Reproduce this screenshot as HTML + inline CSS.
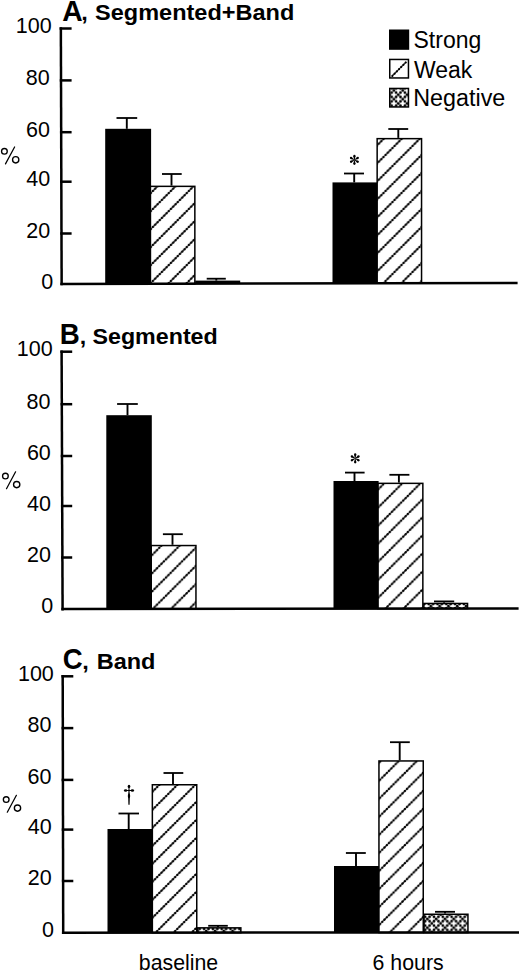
<!DOCTYPE html><html><head><meta charset="utf-8"><style>html,body{margin:0;padding:0;background:#fff;overflow:hidden;}svg{display:block;}text{font-family:"Liberation Sans",sans-serif;fill:#000;}</style></head><body>
<svg width="520" height="971" viewBox="0 0 520 971">
<defs>
<pattern id="hatch" patternUnits="userSpaceOnUse" width="18.3" height="18.3"><path d="M-9.15,9.15 L9.15,-9.15 M0,18.3 L18.3,0 M9.15,27.450000000000003 L27.450000000000003,9.15" stroke="#000" stroke-width="1.6"/></pattern>
<pattern id="dots" patternUnits="userSpaceOnUse" width="4.6" height="4.6"><rect width="4.6" height="4.6" fill="#fff"/><circle cx="0" cy="0" r="1.25"/><circle cx="4.6" cy="0" r="1.25"/><circle cx="0" cy="4.6" r="1.25"/><circle cx="4.6" cy="4.6" r="1.25"/><circle cx="2.3" cy="2.3" r="1.25"/></pattern>
</defs>
<rect width="520" height="971" fill="#fff"/>
<line x1="126.80" y1="118.00" x2="126.80" y2="128.80" stroke="#000" stroke-width="1.9" stroke-linecap="butt"/>
<line x1="116.50" y1="118.00" x2="137.20" y2="118.00" stroke="#000" stroke-width="1.8" stroke-linecap="butt"/>
<rect x="105.20" y="128.80" width="45.90" height="155.20" fill="#000"/>
<line x1="171.50" y1="174.00" x2="171.50" y2="185.60" stroke="#000" stroke-width="1.9" stroke-linecap="butt"/>
<line x1="162.00" y1="174.00" x2="181.70" y2="174.00" stroke="#000" stroke-width="1.8" stroke-linecap="butt"/>
<defs><pattern id="h1" patternUnits="userSpaceOnUse" x="361.80" y="0" width="18.0" height="18.0"><path d="M-9.0,9.0 L9.0,-9.0 M0,18.0 L18.0,0 M9.0,27.0 L27.0,9.0" stroke="#222" stroke-width="1.1"/><path d="M-9.0,9.0 L9.0,-9.0 M0,18.0 L18.0,0 M9.0,27.0 L27.0,9.0" stroke="#000" stroke-width="2.25" stroke-linecap="round" stroke-dasharray="0.25 2.9320" stroke-dashoffset="-0.5"/></pattern></defs>
<rect x="150.35" y="186.35" width="44.50" height="97.65" fill="url(#h1)" stroke="#000" stroke-width="1.5"/>
<line x1="216.30" y1="278.70" x2="216.30" y2="280.60" stroke="#000" stroke-width="1.9" stroke-linecap="butt"/>
<line x1="206.70" y1="278.70" x2="225.80" y2="278.70" stroke="#000" stroke-width="1.8" stroke-linecap="butt"/>
<rect x="195.20" y="280.60" width="45.00" height="3.40" fill="#000"/>
<line x1="354.20" y1="173.50" x2="354.20" y2="182.40" stroke="#000" stroke-width="1.9" stroke-linecap="butt"/>
<line x1="344.00" y1="173.50" x2="364.00" y2="173.50" stroke="#000" stroke-width="1.8" stroke-linecap="butt"/>
<rect x="332.50" y="182.40" width="44.70" height="100.80" fill="#000"/>
<line x1="398.30" y1="129.00" x2="398.30" y2="137.90" stroke="#000" stroke-width="1.9" stroke-linecap="butt"/>
<line x1="388.30" y1="129.00" x2="408.20" y2="129.00" stroke="#000" stroke-width="1.8" stroke-linecap="butt"/>
<defs><pattern id="h2" patternUnits="userSpaceOnUse" x="540.50" y="0" width="18.0" height="18.0"><path d="M-9.0,9.0 L9.0,-9.0 M0,18.0 L18.0,0 M9.0,27.0 L27.0,9.0" stroke="#222" stroke-width="1.1"/><path d="M-9.0,9.0 L9.0,-9.0 M0,18.0 L18.0,0 M9.0,27.0 L27.0,9.0" stroke="#000" stroke-width="2.25" stroke-linecap="round" stroke-dasharray="0.25 2.9320" stroke-dashoffset="-0.5"/></pattern></defs>
<rect x="377.15" y="138.65" width="44.40" height="144.55" fill="url(#h2)" stroke="#000" stroke-width="1.5"/>
<line x1="127.50" y1="404.00" x2="127.50" y2="415.20" stroke="#000" stroke-width="1.9" stroke-linecap="butt"/>
<line x1="117.10" y1="404.00" x2="137.80" y2="404.00" stroke="#000" stroke-width="1.8" stroke-linecap="butt"/>
<rect x="106.30" y="415.20" width="45.50" height="193.80" fill="#000"/>
<line x1="172.50" y1="534.20" x2="172.50" y2="544.80" stroke="#000" stroke-width="1.9" stroke-linecap="butt"/>
<line x1="162.90" y1="534.20" x2="182.80" y2="534.20" stroke="#000" stroke-width="1.8" stroke-linecap="butt"/>
<defs><pattern id="h3" patternUnits="userSpaceOnUse" x="725.30" y="0" width="18.2" height="18.2"><path d="M-9.1,9.1 L9.1,-9.1 M0,18.2 L18.2,0 M9.1,27.299999999999997 L27.299999999999997,9.1" stroke="#222" stroke-width="1.1"/><path d="M-9.1,9.1 L9.1,-9.1 M0,18.2 L18.2,0 M9.1,27.299999999999997 L27.299999999999997,9.1" stroke="#000" stroke-width="2.25" stroke-linecap="round" stroke-dasharray="0.25 2.9673" stroke-dashoffset="-0.5"/></pattern></defs>
<rect x="151.25" y="545.55" width="44.70" height="63.45" fill="url(#h3)" stroke="#000" stroke-width="1.5"/>
<line x1="354.50" y1="472.60" x2="354.50" y2="481.00" stroke="#000" stroke-width="1.9" stroke-linecap="butt"/>
<line x1="345.00" y1="472.60" x2="364.60" y2="472.60" stroke="#000" stroke-width="1.8" stroke-linecap="butt"/>
<rect x="333.50" y="481.00" width="45.10" height="127.60" fill="#000"/>
<line x1="398.90" y1="474.80" x2="398.90" y2="482.60" stroke="#000" stroke-width="1.9" stroke-linecap="butt"/>
<line x1="389.40" y1="474.80" x2="409.40" y2="474.80" stroke="#000" stroke-width="1.8" stroke-linecap="butt"/>
<defs><pattern id="h4" patternUnits="userSpaceOnUse" x="885.70" y="0" width="18.05" height="18.05"><path d="M-9.025,9.025 L9.025,-9.025 M0,18.05 L18.05,0 M9.025,27.075000000000003 L27.075000000000003,9.025" stroke="#222" stroke-width="1.1"/><path d="M-9.025,9.025 L9.025,-9.025 M0,18.05 L18.05,0 M9.025,27.075000000000003 L27.075000000000003,9.025" stroke="#000" stroke-width="2.25" stroke-linecap="round" stroke-dasharray="0.25 2.9408" stroke-dashoffset="-0.5"/></pattern></defs>
<rect x="377.85" y="483.35" width="45.00" height="125.25" fill="url(#h4)" stroke="#000" stroke-width="1.5"/>
<line x1="444.10" y1="601.40" x2="444.10" y2="602.70" stroke="#000" stroke-width="1.9" stroke-linecap="butt"/>
<line x1="434.00" y1="601.40" x2="454.20" y2="601.40" stroke="#000" stroke-width="1.8" stroke-linecap="butt"/>
<defs><pattern id="n2" patternUnits="userSpaceOnUse" x="419.9" y="604.0" width="8.8" height="8.8"><rect width="8.8" height="8.8" fill="#fff"/><circle cx="0.00" cy="0.00" r="1.38"/><circle cx="4.40" cy="0.00" r="1.38"/><circle cx="8.80" cy="0.00" r="1.38"/><circle cx="0.00" cy="4.40" r="1.38"/><circle cx="4.40" cy="4.40" r="1.38"/><circle cx="8.80" cy="4.40" r="1.38"/><circle cx="0.00" cy="8.80" r="1.38"/><circle cx="4.40" cy="8.80" r="1.38"/><circle cx="8.80" cy="8.80" r="1.38"/><circle cx="2.20" cy="2.20" r="1.38"/><circle cx="6.60" cy="6.60" r="1.38"/></pattern></defs>
<rect x="423.85" y="603.45" width="43.70" height="5.15" fill="url(#n2)" stroke="#000" stroke-width="1.5"/>
<line x1="128.70" y1="813.50" x2="128.70" y2="829.00" stroke="#000" stroke-width="1.9" stroke-linecap="butt"/>
<line x1="118.50" y1="813.50" x2="139.00" y2="813.50" stroke="#000" stroke-width="1.8" stroke-linecap="butt"/>
<rect x="107.50" y="829.00" width="45.00" height="103.70" fill="#000"/>
<line x1="173.00" y1="773.00" x2="173.00" y2="784.00" stroke="#000" stroke-width="1.9" stroke-linecap="butt"/>
<line x1="163.50" y1="773.00" x2="183.30" y2="773.00" stroke="#000" stroke-width="1.8" stroke-linecap="butt"/>
<defs><pattern id="h5" patternUnits="userSpaceOnUse" x="962.20" y="0" width="18.0" height="18.0"><path d="M-9.0,9.0 L9.0,-9.0 M0,18.0 L18.0,0 M9.0,27.0 L27.0,9.0" stroke="#222" stroke-width="1.1"/><path d="M-9.0,9.0 L9.0,-9.0 M0,18.0 L18.0,0 M9.0,27.0 L27.0,9.0" stroke="#000" stroke-width="2.25" stroke-linecap="round" stroke-dasharray="0.25 2.9320" stroke-dashoffset="-0.5"/></pattern></defs>
<rect x="152.35" y="784.75" width="44.40" height="147.95" fill="url(#h5)" stroke="#000" stroke-width="1.5"/>
<line x1="218.00" y1="925.80" x2="218.00" y2="927.10" stroke="#000" stroke-width="1.9" stroke-linecap="butt"/>
<line x1="208.20" y1="925.80" x2="227.80" y2="925.80" stroke="#000" stroke-width="1.8" stroke-linecap="butt"/>
<defs><pattern id="n3" patternUnits="userSpaceOnUse" x="195.3" y="928.9" width="8.8" height="8.8"><rect width="8.8" height="8.8" fill="#fff"/><circle cx="0.00" cy="0.00" r="1.38"/><circle cx="4.40" cy="0.00" r="1.38"/><circle cx="8.80" cy="0.00" r="1.38"/><circle cx="0.00" cy="4.40" r="1.38"/><circle cx="4.40" cy="4.40" r="1.38"/><circle cx="8.80" cy="4.40" r="1.38"/><circle cx="0.00" cy="8.80" r="1.38"/><circle cx="4.40" cy="8.80" r="1.38"/><circle cx="8.80" cy="8.80" r="1.38"/><circle cx="2.20" cy="2.20" r="1.38"/><circle cx="6.60" cy="6.60" r="1.38"/></pattern></defs>
<rect x="197.75" y="927.85" width="43.10" height="4.85" fill="url(#n3)" stroke="#000" stroke-width="1.5"/>
<line x1="356.00" y1="853.00" x2="356.00" y2="866.00" stroke="#000" stroke-width="1.9" stroke-linecap="butt"/>
<line x1="345.90" y1="853.00" x2="365.80" y2="853.00" stroke="#000" stroke-width="1.8" stroke-linecap="butt"/>
<rect x="334.00" y="866.00" width="45.00" height="66.60" fill="#000"/>
<line x1="399.70" y1="742.20" x2="399.70" y2="760.20" stroke="#000" stroke-width="1.9" stroke-linecap="butt"/>
<line x1="390.00" y1="742.20" x2="409.80" y2="742.20" stroke="#000" stroke-width="1.8" stroke-linecap="butt"/>
<defs><pattern id="h6" patternUnits="userSpaceOnUse" x="1159.80" y="0" width="18.04" height="18.04"><path d="M-9.02,9.02 L9.02,-9.02 M0,18.04 L18.04,0 M9.02,27.06 L27.06,9.02" stroke="#222" stroke-width="1.1"/><path d="M-9.02,9.02 L9.02,-9.02 M0,18.04 L18.04,0 M9.02,27.06 L27.06,9.02" stroke="#000" stroke-width="2.25" stroke-linecap="round" stroke-dasharray="0.25 2.9391" stroke-dashoffset="-0.5"/></pattern></defs>
<rect x="378.95" y="760.95" width="44.30" height="171.65" fill="url(#h6)" stroke="#000" stroke-width="1.5"/>
<line x1="445.00" y1="911.80" x2="445.00" y2="913.50" stroke="#000" stroke-width="1.9" stroke-linecap="butt"/>
<line x1="435.00" y1="911.80" x2="455.00" y2="911.80" stroke="#000" stroke-width="1.8" stroke-linecap="butt"/>
<defs><pattern id="n4" patternUnits="userSpaceOnUse" x="425.2" y="916.8" width="8.8" height="8.8"><rect width="8.8" height="8.8" fill="#fff"/><circle cx="0.00" cy="0.00" r="1.38"/><circle cx="4.40" cy="0.00" r="1.38"/><circle cx="8.80" cy="0.00" r="1.38"/><circle cx="0.00" cy="4.40" r="1.38"/><circle cx="4.40" cy="4.40" r="1.38"/><circle cx="8.80" cy="4.40" r="1.38"/><circle cx="0.00" cy="8.80" r="1.38"/><circle cx="4.40" cy="8.80" r="1.38"/><circle cx="8.80" cy="8.80" r="1.38"/><circle cx="2.20" cy="2.20" r="1.38"/><circle cx="6.60" cy="6.60" r="1.38"/></pattern></defs>
<rect x="424.05" y="914.25" width="43.90" height="18.35" fill="url(#n4)" stroke="#000" stroke-width="1.5"/>
<line x1="60.85" y1="27.30" x2="61.65" y2="285.20" stroke="#000" stroke-width="2.5" stroke-linecap="butt"/>
<line x1="59.60" y1="28.50" x2="71.60" y2="28.50" stroke="#000" stroke-width="2.5" stroke-linecap="butt"/>
<line x1="59.76" y1="80.40" x2="71.60" y2="80.40" stroke="#000" stroke-width="2.5" stroke-linecap="butt"/>
<line x1="59.93" y1="132.20" x2="71.60" y2="132.20" stroke="#000" stroke-width="2.5" stroke-linecap="butt"/>
<line x1="60.08" y1="181.70" x2="71.60" y2="181.70" stroke="#000" stroke-width="2.5" stroke-linecap="butt"/>
<line x1="60.24" y1="233.50" x2="71.60" y2="233.50" stroke="#000" stroke-width="2.5" stroke-linecap="butt"/>
<line x1="60.40" y1="284.00" x2="517.60" y2="283.00" stroke="#000" stroke-width="2.5" stroke-linecap="butt"/>
<text x="51.7" y="32.6" font-size="21.5" text-anchor="end">100</text>
<text x="49.7" y="84.9" font-size="21.5" text-anchor="end">80</text>
<text x="50.0" y="136.6" font-size="21.5" text-anchor="end">60</text>
<text x="50.2" y="186.1" font-size="21.5" text-anchor="end">40</text>
<text x="50.2" y="237.8" font-size="21.5" text-anchor="end">20</text>
<text x="53.1" y="288.7" font-size="21.5" text-anchor="end">0</text>
<g transform="translate(0,0)" fill="none" stroke="#000" stroke-width="1.35"><circle cx="4.4" cy="151.3" r="2.85"/><circle cx="15.7" cy="159.8" r="3.15"/><line x1="5.5" y1="163.9" x2="14.6" y2="147" stroke-linecap="round" stroke-width="1.25"/></g>
<text transform="translate(62.29,20.8) scale(0.97,1)" font-size="29.2" font-weight="bold">A</text>
<text transform="translate(81.35,20.3) scale(1.05,1)" font-size="22.4" font-weight="bold">,</text>
<text transform="translate(95.09,20.3) scale(1.05,1)" font-size="22.4" font-weight="bold">Segmented+Band</text>
<line x1="61.60" y1="350.50" x2="62.60" y2="610.40" stroke="#000" stroke-width="2.5" stroke-linecap="butt"/>
<line x1="60.35" y1="351.70" x2="72.20" y2="351.70" stroke="#000" stroke-width="2.5" stroke-linecap="butt"/>
<line x1="60.56" y1="404.20" x2="72.20" y2="404.20" stroke="#000" stroke-width="2.5" stroke-linecap="butt"/>
<line x1="60.76" y1="456.00" x2="72.20" y2="456.00" stroke="#000" stroke-width="2.5" stroke-linecap="butt"/>
<line x1="60.95" y1="506.00" x2="72.20" y2="506.00" stroke="#000" stroke-width="2.5" stroke-linecap="butt"/>
<line x1="61.15" y1="557.50" x2="72.20" y2="557.50" stroke="#000" stroke-width="2.5" stroke-linecap="butt"/>
<line x1="61.35" y1="609.00" x2="518.60" y2="608.40" stroke="#000" stroke-width="2.5" stroke-linecap="butt"/>
<text x="52.7" y="355.9" font-size="21.5" text-anchor="end">100</text>
<text x="50.5" y="408.5" font-size="21.5" text-anchor="end">80</text>
<text x="50.8" y="460.4" font-size="21.5" text-anchor="end">60</text>
<text x="51.0" y="511.2" font-size="21.5" text-anchor="end">40</text>
<text x="51.0" y="561.8" font-size="21.5" text-anchor="end">20</text>
<text x="53.3" y="613.3" font-size="21.5" text-anchor="end">0</text>
<g transform="translate(1.0,324.8)" fill="none" stroke="#000" stroke-width="1.35"><circle cx="4.4" cy="151.3" r="2.85"/><circle cx="15.7" cy="159.8" r="3.15"/><line x1="5.5" y1="163.9" x2="14.6" y2="147" stroke-linecap="round" stroke-width="1.25"/></g>
<text transform="translate(59.70,344.4) scale(0.93,1)" font-size="29.8" font-weight="bold">B</text>
<text transform="translate(79.77,343.7) scale(1.038,1)" font-size="22.4" font-weight="bold">,</text>
<text transform="translate(92.50,343.7) scale(1.038,1)" font-size="22.4" font-weight="bold">Segmented</text>
<line x1="62.70" y1="675.00" x2="63.20" y2="934.00" stroke="#000" stroke-width="2.5" stroke-linecap="butt"/>
<line x1="61.45" y1="676.30" x2="73.30" y2="676.30" stroke="#000" stroke-width="2.5" stroke-linecap="butt"/>
<line x1="61.55" y1="728.10" x2="73.30" y2="728.10" stroke="#000" stroke-width="2.5" stroke-linecap="butt"/>
<line x1="61.65" y1="779.90" x2="73.30" y2="779.90" stroke="#000" stroke-width="2.5" stroke-linecap="butt"/>
<line x1="61.75" y1="829.60" x2="73.30" y2="829.60" stroke="#000" stroke-width="2.5" stroke-linecap="butt"/>
<line x1="61.85" y1="881.00" x2="73.30" y2="881.00" stroke="#000" stroke-width="2.5" stroke-linecap="butt"/>
<line x1="61.95" y1="932.70" x2="519.00" y2="932.50" stroke="#000" stroke-width="2.5" stroke-linecap="butt"/>
<text x="53.8" y="680.8" font-size="21.5" text-anchor="end">100</text>
<text x="51.5" y="732.4" font-size="21.5" text-anchor="end">80</text>
<text x="51.5" y="784.2" font-size="21.5" text-anchor="end">60</text>
<text x="51.7" y="834.0" font-size="21.5" text-anchor="end">40</text>
<text x="51.7" y="885.3" font-size="21.5" text-anchor="end">20</text>
<text x="54.0" y="937.1" font-size="21.5" text-anchor="end">0</text>
<g transform="translate(1.8,648.3)" fill="none" stroke="#000" stroke-width="1.35"><circle cx="4.4" cy="151.3" r="2.85"/><circle cx="15.7" cy="159.8" r="3.15"/><line x1="5.5" y1="163.9" x2="14.6" y2="147" stroke-linecap="round" stroke-width="1.25"/></g>
<text transform="translate(62.70,669.2) scale(0.93,1)" font-size="29.7" font-weight="bold">C</text>
<text transform="translate(82.35,668.7) scale(1.05,1)" font-size="22.4" font-weight="bold">,</text>
<text transform="translate(96.67,668.7) scale(1.05,1)" font-size="22.4" font-weight="bold">Band</text>
<rect x="389" y="29.5" width="20.2" height="20.3" fill="#000"/>
<rect x="389.75" y="59.45" width="18.7" height="18.5" fill="#fff" stroke="#000" stroke-width="1.5"/>
<path d="M392.3,75.9 L406,62.2" stroke="#222" stroke-width="1.1"/><path d="M392.3,75.9 L406,62.2" stroke="#000" stroke-width="2.1" stroke-linecap="round" stroke-dasharray="0.25 2.89" />
<defs><pattern id="nleg" patternUnits="userSpaceOnUse" x="396.1" y="92.6" width="8.8" height="8.8"><rect width="8.8" height="8.8" fill="#fff"/><circle cx="0.00" cy="0.00" r="1.38"/><circle cx="4.40" cy="0.00" r="1.38"/><circle cx="8.80" cy="0.00" r="1.38"/><circle cx="0.00" cy="4.40" r="1.38"/><circle cx="4.40" cy="4.40" r="1.38"/><circle cx="8.80" cy="4.40" r="1.38"/><circle cx="0.00" cy="8.80" r="1.38"/><circle cx="4.40" cy="8.80" r="1.38"/><circle cx="8.80" cy="8.80" r="1.38"/><circle cx="2.20" cy="2.20" r="1.38"/><circle cx="6.60" cy="6.60" r="1.38"/></pattern></defs>
<rect x="389.75" y="88.45" width="18.7" height="18.5" fill="url(#nleg)" stroke="#000" stroke-width="1.5"/>
<text x="413.5" y="48.3" font-size="23">Strong</text>
<text x="413.9" y="77.6" font-size="23">Weak</text>
<text x="413.3" y="106.1" font-size="23.3">Negative</text>
<text x="138.8" y="969.6" font-size="21.3">baseline</text>
<text x="372.6" y="969.6" font-size="21.3">6 hours</text>
<g><polygon points="354.62,159.90 355.55,156.00 353.25,156.00 354.18,159.90"/><circle cx="354.40" cy="156.00" r="1.15"/><polygon points="354.51,159.71 351.60,156.95 350.45,158.95 354.29,160.09"/><circle cx="351.02" cy="157.95" r="1.15"/><polygon points="354.29,159.71 350.45,160.85 351.60,162.85 354.51,160.09"/><circle cx="351.02" cy="161.85" r="1.15"/><polygon points="354.18,159.90 353.25,163.80 355.55,163.80 354.62,159.90"/><circle cx="354.40" cy="163.80" r="1.15"/><polygon points="354.29,160.09 357.20,162.85 358.35,160.85 354.51,159.71"/><circle cx="357.78" cy="161.85" r="1.15"/><polygon points="354.51,160.09 358.35,158.95 357.20,156.95 354.29,159.71"/><circle cx="357.78" cy="157.95" r="1.15"/></g>
<g><polygon points="355.42,458.40 356.35,454.50 354.05,454.50 354.98,458.40"/><circle cx="355.20" cy="454.50" r="1.15"/><polygon points="355.31,458.21 352.40,455.45 351.25,457.45 355.09,458.59"/><circle cx="351.82" cy="456.45" r="1.15"/><polygon points="355.09,458.21 351.25,459.35 352.40,461.35 355.31,458.59"/><circle cx="351.82" cy="460.35" r="1.15"/><polygon points="354.98,458.40 354.05,462.30 356.35,462.30 355.42,458.40"/><circle cx="355.20" cy="462.30" r="1.15"/><polygon points="355.09,458.59 358.00,461.35 359.15,459.35 355.31,458.21"/><circle cx="358.58" cy="460.35" r="1.15"/><polygon points="355.31,458.59 359.15,457.45 358.00,455.45 355.09,458.21"/><circle cx="358.58" cy="456.45" r="1.15"/></g>
<g>
<ellipse cx="129" cy="786.4" rx="1.3" ry="1.6"/>
<ellipse cx="125.6" cy="790.5" rx="1.7" ry="1.25"/>
<ellipse cx="132.4" cy="790.5" rx="1.7" ry="1.25"/>
<line x1="125" y1="790.5" x2="133" y2="790.5" stroke="#000" stroke-width="1"/>
<path d="M128.5,787 L129.5,787 L129.6,792.5 Q130.5,795.5 129.8,798.5 L129.6,804.8 L128.4,804.8 L128.2,798.5 Q127.5,795.5 128.4,792.5 Z"/>
</g>
</svg></body></html>
